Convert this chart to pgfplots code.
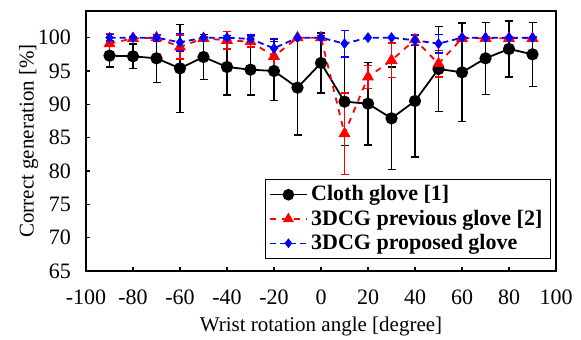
\documentclass[border=0pt]{standalone}
\usepackage{fontspec}
\setmainfont{Liberation Serif}
\usepackage{pgfplots}
\pgfplotsset{compat=1.18}
\begin{document}
\begin{tikzpicture}
\begin{axis}[
  scale only axis,
  width=235pt, height=130pt,
  xmin=-100, xmax=100, ymin=65, ymax=104,
  xtick={-100,-80,...,100},
  ytick={65,70,...,100},
  tick align=inside, xtick pos=bottom, ytick pos=left,
  major tick length=2pt,
  axis line style={line width=1.1pt},
  tick style={line width=0.8pt, black},
  /pgf/number format/assume math mode=true,
  ticklabel style={font=\fontsize{11}{13}\selectfont},
  xticklabel style={yshift=-6pt},
  yticklabel style={xshift=-4pt},
  label style={font=\fontsize{10.5}{12}\selectfont},
  xlabel={Wrist rotation angle [degree]},
  ylabel={Correct generation [\%]},
  xlabel style={yshift=1pt},
  ylabel style={yshift=-7pt},
  legend style={at={(1,0)}, anchor=south east, xshift=-2.5pt, yshift=6pt,
    font=\fontsize{11}{13}\selectfont\bfseries, draw=black, line width=0.6pt,
    row sep=-1pt, inner xsep=2pt, inner ysep=1pt},
  legend cell align=left,
  legend image post style={line width=0.6pt},
  legend image code/.code={\draw[mark repeat=2,mark phase=2,#1] plot coordinates {(0cm,0cm) (0.32cm,0cm) (0.64cm,0cm)};},
  error bars/error bar style={line width=0.8pt, solid},
  error bars/error mark options={rotate=90, mark size=2pt, line width=0.8pt, solid},
]
\addplot[black, line width=0.9pt, mark=*, mark size=2.6pt, mark options={solid},
  error bars/.cd, y dir=both, y explicit] coordinates {
(-90,97.3) +- (0,1.7)
(-80,97.2) +- (0,1.85)
(-70,96.9) +- (0,3.6)
(-60,95.4) +- (0,6.6)
(-50,97.1) +- (0,3.35)
(-40,95.6) +- (0,4.2)
(-30,95.2) +- (0,3.8)
(-20,95.0) +- (0,4.4)
(-10,92.5) +- (0,7.1)
(0,96.2) +- (0,4.5)
(10,90.4) +- (0,6.6)
(20,90.1) +- (0,6.2)
(30,87.9) +- (0,7.7)
(40,90.5) +- (0,8.4)
(50,95.3) +- (0,6.4)
(60,94.8) +- (0,7.4)
(70,96.9) +- (0,5.4)
(80,98.3) +- (0,4.2)
(90,97.5) +- (0,4.8)
};
\addlegendentry{Cloth glove [1]}
\addplot[red, line width=0.9pt, dashed, mark=triangle*, mark size=2.6pt, mark options={solid},
  error bars/.cd, y dir=both, y explicit] coordinates {
(-90,99.1) +- (0,1.5)
(-80,99.9) +- (0,0.3)
(-70,100) +- (0,0.4)
(-60,98.6) +- (0,1.8)
(-50,99.9) +- (0,0.3)
(-40,99.6) +- (0,1.3)
(-30,99.4) +- (0,0.8)
(-20,97.2) +- (0,2.5)
(-10,100) +- (0,0)
(0,100) +- (0,0)
(10,85.6) +- (0,6.1)
(20,94.1) +- (0,1.7)
(30,96.6) +- (0,2.6)
(40,99.7) +- (0,0.8)
(50,96.1) +- (0,2.0)
(60,99.9) +- (0,0.3)
(70,99.9) +- (0,0.3)
(80,99.9) +- (0,0.3)
(90,99.9) +- (0,0.3)
};
\addlegendentry{3DCG previous glove [2]}
\addplot[blue, line width=0.9pt, densely dashed, mark=diamond*, mark size=2pt, mark options={solid},
  error bars/.cd, y dir=both, y explicit] coordinates {
(-90,100) +- (0,0.5)
(-80,100) +- (0,0)
(-70,100) +- (0,0.5)
(-60,99.3) +- (0,1.3)
(-50,100) +- (0,0)
(-40,100) +- (0,0.3)
(-30,99.8) +- (0,0.6)
(-20,98.4) +- (0,1.4)
(-10,100) +- (0,0)
(0,100) +- (0,0.3)
(10,99.1) +- (0,2.0)
(20,100) +- (0,0)
(30,100) +- (0,0)
(40,99.6) +- (0,0.8)
(50,99.1) +- (0,1.4)
(60,100) +- (0,0)
(70,100) +- (0,0)
(80,100) +- (0,0)
(90,100) +- (0,0)
};
\addlegendentry{3DCG proposed glove}
\end{axis}
\pgfresetboundingbox
\useasboundingbox (-43pt,-34.5pt) rectangle (247.5pt,135.5pt);
\end{tikzpicture}
\end{document}
